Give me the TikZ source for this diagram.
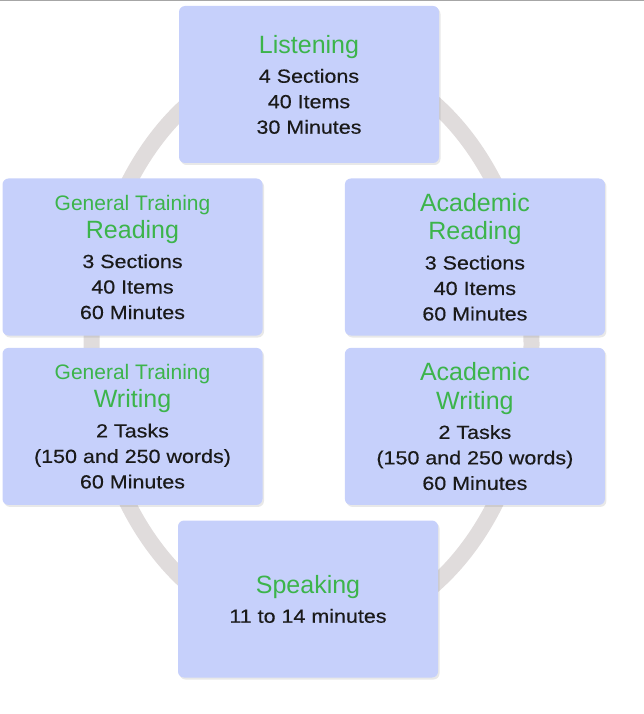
\documentclass[tikz,border=0pt]{standalone}
\usepackage{fontspec}
\usepackage{tikz}
\usetikzlibrary{positioning,shadows}
\setmainfont{Liberation Sans}
\newfontfamily\titlefont{Liberation Sans}
\newfontfamily\bodyfont[FakeStretch=1.13,FakeBold=0.4]{Liberation Sans}
\definecolor{boxblue}{HTML}{C6D0FB}
\definecolor{headgreen}{HTML}{3CB44B}
\definecolor{ringgray}{HTML}{E0DCDC}
\definecolor{bodyblack}{HTML}{1A1A1A}
% section heading inside a box
\newcommand{\hd}[2][25]{{\titlefont\fontsize{#1}{29}\selectfont\color{headgreen}#2}}

\begin{document}
\begin{tikzpicture}[
    x=1pt, y=1pt,
    node distance=12pt and 82pt, % gaps between boxes
    box/.style={rectangle, rounded corners=6pt, fill=boxblue, align=center,
        minimum width=260pt, minimum height=157pt, text=bodyblack,
        font=\bodyfont\fontsize{19}{25.5}\selectfont,
        drop shadow={opacity=0.18, shadow xshift=1.5pt, shadow yshift=-2pt}},
    ring/.style={draw=ringgray, line width=16pt}
]
    \useasboundingbox (0,0) rectangle (644,-714);
    \draw[gray!70, line width=1.5pt] (0,-0.5) -- (644,-0.5);

    % Ring behind the boxes
    \draw[ring] (311.5,-344) ellipse [x radius=220, y radius=290];

    % Nodes
    \node[box] (L) at (309,-84.5) {\hd{Listening}\\[4pt] 4 Sections\\ 40 Items\\ 30 Minutes};
    \node[box] (GTR) at (132.5,-257) {\hd[21]{General Training}\\[3pt] \hd{Reading}\\[4pt] 3 Sections\\ 40 Items\\ 60 Minutes};
    \node[box, right=of GTR] (AR) {\hd{Academic}\\[3pt] \hd{Reading}\\[4pt] 3 Sections\\ 40 Items\\ 60 Minutes};
    \node[box, below=of GTR] (GTW) {\hd[21]{General Training}\\[3pt] \hd{Writing}\\[4pt] 2 Tasks\\ (150 and 250 words)\\ 60 Minutes};
    \node[box, below=of AR] (AW) {\hd{Academic}\\[3pt] \hd{Writing}\\[4pt] 2 Tasks\\ (150 and 250 words)\\ 60 Minutes};
    \node[box] (S) at (308,-599) {\hd{Speaking}\\[4pt] 11 to 14 minutes};
\end{tikzpicture}
\end{document}
